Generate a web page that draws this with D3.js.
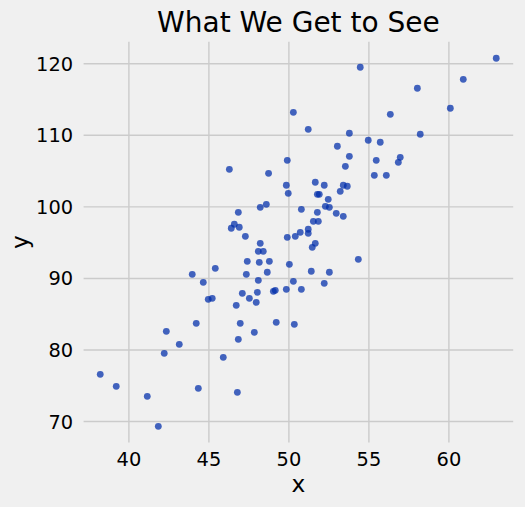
<!DOCTYPE html>
<html>
<head>
<meta charset="utf-8">
<script src="https://cdn.jsdelivr.net/npm/d3@7"></script>
<style>
  html, body { margin: 0; padding: 0; background: #f0f0f0; }
  svg { display: block; font-family: "DejaVu Sans", sans-serif; }
</style>
</head>
<body>
<svg id="chart" width="525" height="507"></svg>
<script>
const xValues = [50.31,49.93,46.31,48.76,49.87,49.99,48.24,48.62,46.87,46.62,
  46.43,46.93,47.31,49.93,50.43,50.81,62.99,60.93,58.06,54.49,
  60.12,56.37,51.24,53.81,58.24,54.99,55.74,53.06,53.81,53.56,
  55.49,56.99,56.87,55.37,56.12,51.68,52.24,53.43,53.68,53.24,
  51.81,51.93,52.49,52.31,52.56,51.81,52.99,53.43,51.56,51.87,
  51.24,51.24,50.74,48.24,48.12,48.43,47.43,48.18,48.81,50.06,
  43.99,45.43,44.68,47.37,48.68,48.12,50.31,47.12,48.06,47.56,
  49.06,49.18,49.87,50.81,44.99,45.24,46.74,47.99,44.24,46.99,
  49.24,50.37,42.37,47.87,46.87,43.18,42.24,45.93,38.24,39.24,
  41.18,44.37,46.81,41.87,51.68,51.49,54.37,51.43,52.56,52.24];
const yValues = [113.15,106.44,105.18,104.62,102.95,101.83,99.87,100.29,99.17,97.50,
  96.94,97.08,95.82,95.68,95.82,99.59,120.70,117.76,116.51,119.44,
  113.71,112.87,110.77,110.22,110.08,109.24,108.96,108.40,107.00,105.60,
  106.44,106.86,106.16,104.34,104.34,103.37,102.95,102.95,102.81,102.11,
  101.69,101.69,100.99,100.01,99.87,99.17,99.03,98.61,97.91,97.91,
  96.80,96.24,96.38,94.84,93.72,93.72,92.32,92.18,92.32,91.90,
  90.51,91.34,89.39,90.51,90.79,89.67,89.53,87.85,87.99,87.15,
  88.13,88.27,88.41,88.41,87.01,87.15,86.17,86.59,83.66,83.66,
  83.80,83.52,82.54,82.40,81.42,80.72,79.46,78.90,76.53,74.85,
  73.45,74.57,74.01,69.26,94.84,94.28,92.60,90.93,90.79,89.25];
const xTicks = [40, 45, 50, 55, 60];
const yTicks = [70, 80, 90, 100, 110, 120];
const titleText = "What We Get to See";
const xLabel = "x";
const yLabel = "y";

const svg = d3.select("#chart");
const pLeft = 83.6, pRight = 513.2, pTop = 41.8, pBottom = 442.5;

const x = d3.scaleLinear().domain([37.2, 64.05]).range([pLeft, pRight]);
const y = d3.scaleLinear().domain([67, 123]).range([pBottom, pTop]);

svg.append("rect").attr("width", 525).attr("height", 507).attr("fill", "#f0f0f0");

// grid
const xAxis = d3.axisBottom(x).tickValues(xTicks).tickSize(-(pBottom - pTop)).tickPadding(10).tickFormat(d3.format("d"));
const yAxis = d3.axisLeft(y).tickValues(yTicks).tickSize(-(pRight - pLeft)).tickPadding(10).tickFormat(d3.format("d"));

const gx = svg.append("g").attr("transform", `translate(0,${pBottom})`).call(xAxis);
const gy = svg.append("g").attr("transform", `translate(${pLeft},0)`).call(yAxis);
[gx, gy].forEach(g => {
  g.select(".domain").remove();
  g.selectAll(".tick line").attr("stroke", "#cbcbcb").attr("stroke-width", 1.4);
  g.selectAll(".tick text").attr("fill", "#000").attr("font-size", "19.4px")
    .attr("font-family", "DejaVu Sans, sans-serif");
});
gx.selectAll(".tick text").attr("dy", null).attr("y", 23.5);
gy.selectAll(".tick text").attr("x", -10.5).attr("dy", "0.36em");

// points
const pts = xValues.map((v, i) => ({x: v, y: yValues[i]}));
svg.append("g").selectAll("circle").data(pts).enter().append("circle")
  .attr("cx", d => x(d.x)).attr("cy", d => y(d.y)).attr("r", 3.4)
  .attr("fill", "rgb(0,45,170)").attr("fill-opacity", 0.73);

// title and labels
svg.append("text").attr("x", (pLeft + pRight) / 2).attr("y", 31.5)
  .attr("text-anchor", "middle").attr("font-size", "28px").attr("fill", "#000").text(titleText);
svg.append("text").attr("x", (pLeft + pRight) / 2).attr("y", 492)
  .attr("text-anchor", "middle").attr("font-size", "23.3px").attr("fill", "#000").text(xLabel);
svg.append("text").attr("transform", `translate(27.7,${(pTop + pBottom) / 2}) rotate(-90)`)
  .attr("text-anchor", "middle").attr("font-size", "23.3px").attr("fill", "#000").text(yLabel);
</script>
</body>
</html>
